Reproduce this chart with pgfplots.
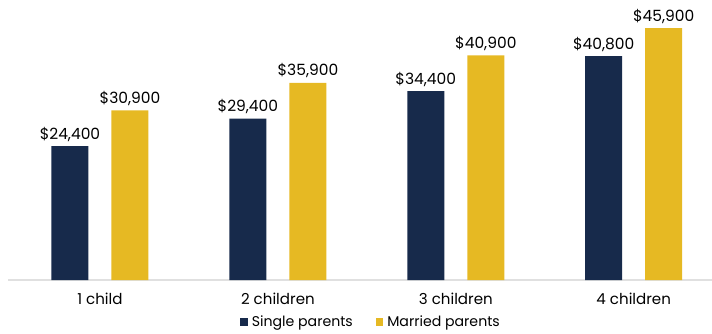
\documentclass[border=0pt]{standalone}
\usepackage{pgfplots}
\pgfplotsset{compat=1.18}
\usepackage{fontspec}
\setmainfont{Poppins}
\definecolor{navy}{HTML}{172A4B}
\definecolor{gold}{HTML}{E6B923}
\begin{document}
\begin{tikzpicture}[x=1pt,y=1pt]
\useasboundingbox (0,0) rectangle (534,249.75);
\begin{axis}[
  at={(6pt,39.75pt)}, anchor=south west,
  scale only axis, width=528pt, height=210pt,
  ymin=0, ymax=51000,
  xmin=-0.517, xmax=3.44,
  ybar, bar width=27.75pt,
  axis y line=none,
  axis x line*=bottom,
  x axis line style={draw=black!12, line width=0.8pt, -},
  xtick=data, xticklabels={1 child,2 children,3 children,4 children},
  xtick style={draw=none},
  xticklabel style={font=\fontsize{11.3}{13}\selectfont, yshift=-2pt},
  /pgf/number format/assume math mode=true,
  nodes near coords={\$\pgfmathprintnumber[fixed,1000 sep={,},assume math mode=true]{\pgfplotspointmeta}},
  nodes near coords style={font=\fontsize{11.6}{13}\selectfont, text=black},
  point meta=explicit,
  legend style={at={(0.516,-0.15)}, anchor=center, draw=none, legend columns=2,
    font=\fontsize{10.6}{12}\selectfont, inner sep=0pt,
    /tikz/every odd column/.append style={column sep=1pt},
    /tikz/every even column/.append style={column sep=15pt}},
  legend image code/.code={\fill[#1] (0pt,-3pt) rectangle (5.8pt,2.8pt);},
]
\addplot[fill=navy, draw=none, bar shift=-22.5pt] coordinates {(0,24400)[24400] (1,29400)[29400] (2,34400)[34400] (3,40800)[40800]};
\addplot[fill=gold, draw=none, bar shift=22.5pt] coordinates {(0,30900)[30900] (1,35900)[35900] (2,40900)[40900] (3,45900)[45900]};
\legend{Single parents, Married parents}
\end{axis}
\end{tikzpicture}
\end{document}
